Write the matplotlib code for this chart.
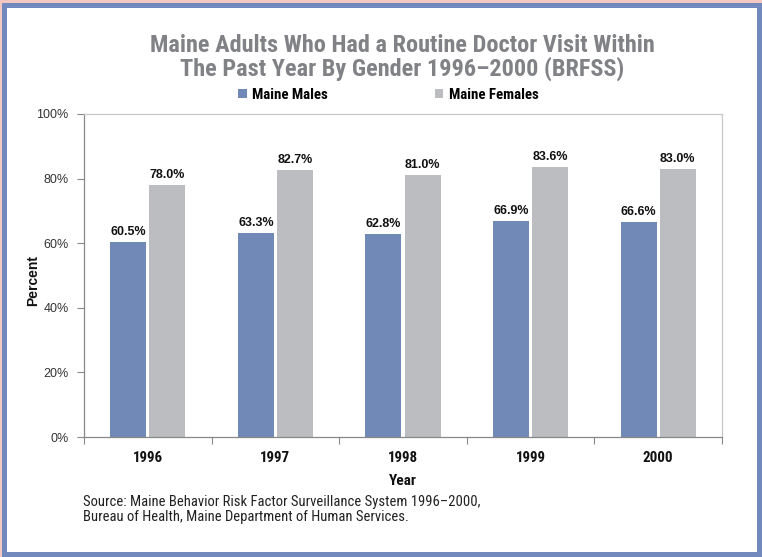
import matplotlib
matplotlib.use("Agg")
import matplotlib.pyplot as plt
from matplotlib.patches import Rectangle
import numpy as np

years = ["1996", "1997", "1998", "1999", "2000"]
males = [60.5, 63.3, 62.8, 66.9, 66.6]
females = [78.0, 82.7, 81.0, 83.6, 83.0]
yticks = [0, 20, 40, 60, 80, 100]
ytick_labels = ["0%", "20%", "40%", "60%", "80%", "100%"]

male_color = "#7089B7"
female_color = "#BCBDC1"
NARROW = ["Roboto Condensed", "DejaVu Sans"]
SANS = ["Liberation Sans", "DejaVu Sans"]

W, H = 762, 557
fig = plt.figure(figsize=(W / 100, H / 100), dpi=100)
fig.patch.set_facecolor("white")

# background pink and blue frame
fig.patches.append(Rectangle((0, 0), 1, 1, transform=fig.transFigure,
                             facecolor="#F3C8C2", edgecolor="none", zorder=-3))
fig.patches.append(Rectangle((2 / W, 0), 1 - 2 / W, 1 - 3 / H, transform=fig.transFigure,
                             facecolor="#7189BC", edgecolor="none", zorder=-2))
fig.patches.append(Rectangle((7 / W, 5 / H), 1 - 12 / W, 1 - 13 / H, transform=fig.transFigure,
                             facecolor="white", edgecolor="none", zorder=-1))

ax = fig.add_axes([84 / W, 1 - 437 / H, (722 - 84) / W, (437 - 114) / H])
ax.set_facecolor("white")

x = np.arange(len(years))
bw = 0.282
off = 0.153
b1 = ax.bar(x - off, males, bw, color=male_color, label="Maine Males", zorder=2)
b2 = ax.bar(x + off, females, bw, color=female_color, label="Maine Females", zorder=2)

for rect, v in zip(b1, males):
    ax.text(rect.get_x() + rect.get_width() / 2, v + 1.2, f"{v:.1f}%", ha="center", va="bottom",
            fontsize=9, fontweight="bold", family=SANS, color="#111111")
for rect, v in zip(b2, females):
    ax.text(rect.get_x() + rect.get_width() / 2, v + 1.2, f"{v:.1f}%", ha="center", va="bottom",
            fontsize=9, fontweight="bold", family=SANS, color="#111111")

ax.set_xlim(-0.5, len(years) - 0.5)
ax.set_ylim(0, 100)
ax.set_yticks(yticks)
ax.set_yticklabels(ytick_labels, family=SANS, fontsize=9, color="#333333")
ax.set_xticks(np.arange(-0.5, len(years)), minor=False)
ax.set_xticklabels([""] * (len(years) + 1))
ax.set_xticks(x, minor=True)
ax.set_xticklabels(years, minor=True, family=NARROW, fontsize=10.8, fontweight="bold", color="#111111")
ax.tick_params(axis="x", which="minor", length=0, pad=10)
ax.tick_params(axis="x", which="major", length=5, direction="out", color="#888888")
ax.tick_params(axis="y", length=5, direction="out", color="#888888", pad=6)

for s in ["top", "right"]:
    ax.spines[s].set_color("#C8C8C8")
    ax.spines[s].set_linewidth(0.9)
for s in ["left", "bottom"]:
    ax.spines[s].set_color("#888888")
    ax.spines[s].set_linewidth(0.9)

ax.set_xlabel("Year", family=NARROW, fontsize=11, fontweight="bold", color="#111111")
ax.xaxis.set_label_coords((403 - 84) / (722 - 84), -(481 - 437) / (437 - 114))
ax.xaxis.label.set_va("center")
ax.set_ylabel("Percent", family=SANS, fontsize=10, fontweight="bold", color="#111111")
ax.yaxis.set_label_coords(-(84 - 33) / (722 - 84), (437 - 281) / (437 - 114))
ax.yaxis.label.set_va("center")

fig.text(402 / W, 1 - 45 / H, "Maine Adults Who Had a Routine Doctor Visit Within",
         ha="center", va="center", family=NARROW, fontsize=17.5, fontweight="bold", color="#808285")
fig.text(402 / W, 1 - 69 / H, "The Past Year By Gender 1996\u20132000 (BRFSS)",
         ha="center", va="center", family=NARROW, fontsize=17.5, fontweight="bold", color="#808285")

leg = fig.legend(handles=[b1, b2], loc="center", bbox_to_anchor=(388 / W, 1 - 95 / H), ncol=2,
                 frameon=False, handlelength=0.6, handleheight=0.6, handletextpad=0.35,
                 columnspacing=7.2, prop={"family": NARROW, "size": 10.7, "weight": "bold"})

fig.text(83 / W, 1 - 502 / H, "Source: Maine Behavior Risk Factor Surveillance System 1996\u20132000,",
         ha="left", va="center", family=NARROW, fontsize=10.5, color="#222222")
fig.text(83 / W, 1 - 517 / H, "Bureau of Health, Maine Department of Human Services.",
         ha="left", va="center", family=NARROW, fontsize=10.5, color="#222222")

fig.savefig("out.png", dpi=100, facecolor=fig.get_facecolor())
